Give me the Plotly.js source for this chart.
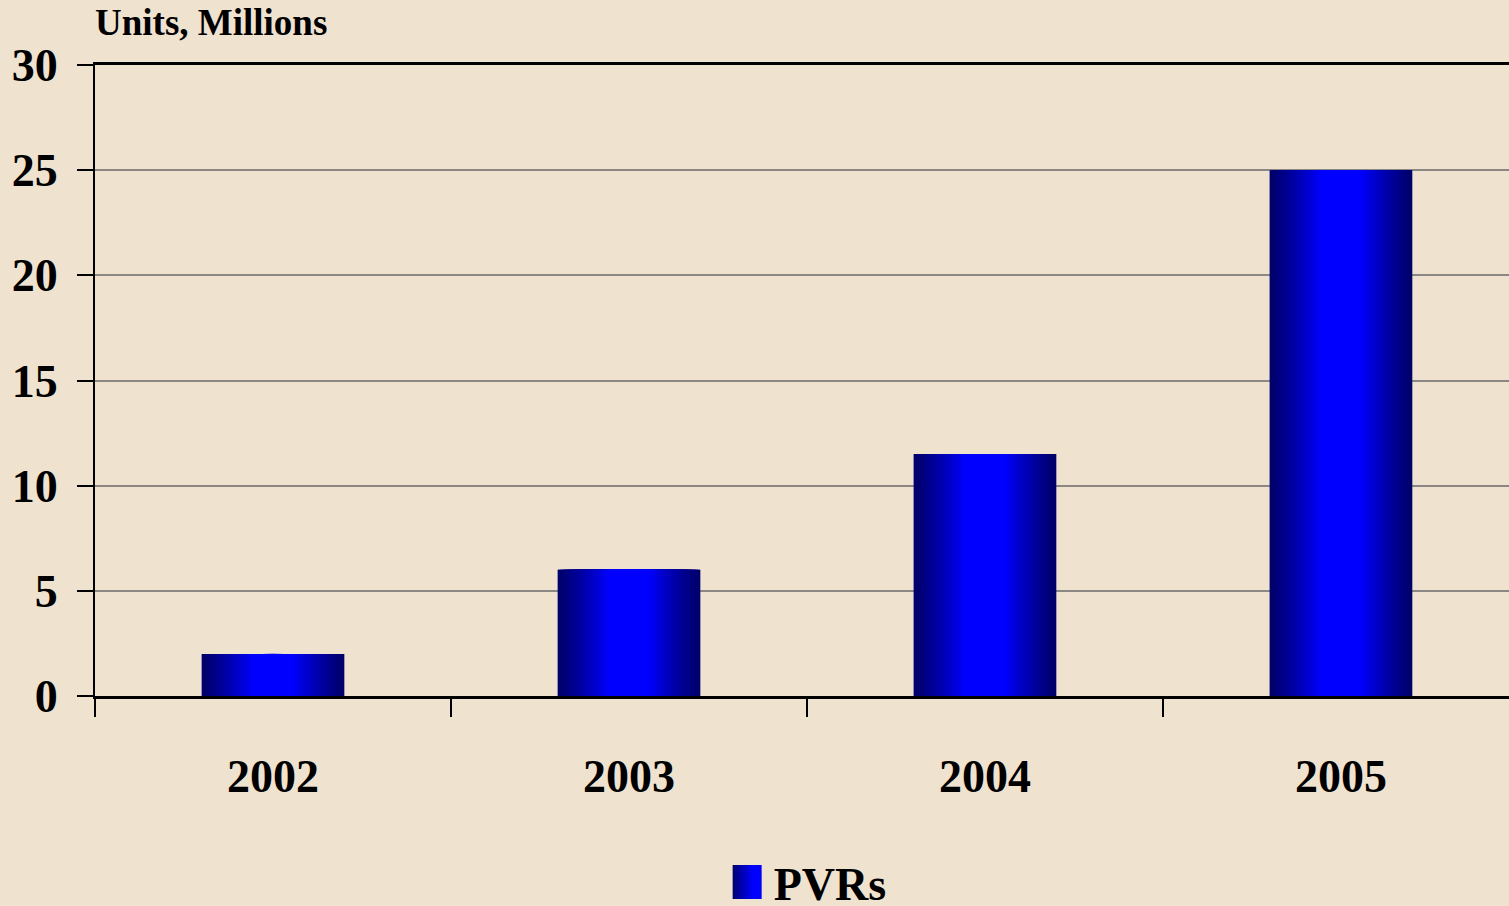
<!DOCTYPE html>
<html>
<head>
<meta charset="utf-8">
<script src="https://cdn.plot.ly/plotly-3.0.1.min.js"></script>
<style>
  html, body { margin: 0; padding: 0; background: #EFE2CF; }
  #chart { width: 1509px; height: 906px; }
</style>
</head>
<body>
<div id="chart"></div>
<script>
// ---- data ----
const years = ['2002', '2003', '2004', '2005'];
const pvrs = [2, 6, 11.5, 25];
const seriesName = 'PVRs';
const yTickVals = [0, 5, 10, 15, 20, 25, 30];
const yTickText = ['0', '5', '10', '15', '20', '25', '30'];
const yTitle = 'Units, Millions';

// ---- styling ----
const FONT = '"Liberation Serif", "Times New Roman", serif';
const BG = '#EFE2CF';
const BAR_W = 0.40;
const STEPS = 36;

function bandColor(d) { // d: 0 centre .. 1 edge
  const edge = 104;
  let b;
  if (d <= 0.3) b = 255;
  else b = 255 - (255 - edge) * Math.pow((d - 0.3) / 0.7, 0.85);
  return 'rgb(0,0,' + Math.round(b) + ')';
}

const traces = [];
// legend / base trace (fully covered by gradient layers)
traces.push({
  type: 'bar', x: years, y: pvrs, name: seriesName, width: BAR_W,
  marker: { color: '#0000D8', line: { width: 0 } },
  showlegend: true, hoverinfo: 'x+y'
});
for (let k = 0; k < STEPS; k++) {
  const frac = 1 - k / STEPS;
  traces.push({
    type: 'bar', x: years, y: pvrs, width: BAR_W * frac,
    marker: { color: bandColor(frac), line: { width: 0 } },
    showlegend: false, hoverinfo: 'skip'
  });
}

const layout = {
  width: 1509, height: 906,
  paper_bgcolor: BG, plot_bgcolor: BG,
  margin: { l: 95, r: 0, t: 65, b: 210, pad: 0, autoexpand: false },
  barmode: 'overlay',
  font: { family: FONT, color: '#000', size: 46 },
  title: {
    text: '<b>' + yTitle + '</b>',
    font: { family: FONT, size: 37, color: '#000' },
    xref: 'paper', x: 0, xanchor: 'left',
    yref: 'container', y: 0.99, yanchor: 'top'
  },
  xaxis: {
    type: 'category',
    range: [-0.5, 3.472],
    tickson: 'boundaries',
    ticks: 'outside', ticklen: 18, tickwidth: 2, tickcolor: '#000',
    showline: true, linecolor: '#000', linewidth: 3, mirror: true,
    showgrid: false, zeroline: false,
    tickfont: { family: FONT, size: 46, color: '#000', weight: 'bold' },
    ticklabelstandoff: 38,
    automargin: false,
    fixedrange: true
  },
  yaxis: {
    range: [0, 30],
    tickvals: yTickVals, ticktext: yTickText,
    ticks: 'outside', ticklen: 16, tickwidth: 2, tickcolor: '#000',
    showline: true, linecolor: '#000', linewidth: 2,
    showgrid: true, gridcolor: '#8A8784', gridwidth: 2,
    zeroline: false,
    tickfont: { family: FONT, size: 46, color: '#000', weight: 'bold' },
    ticklabelstandoff: 10,
    automargin: false,
    fixedrange: true
  },
  showlegend: true,
  legend: {
    orientation: 'h',
    x: 0.504, xanchor: 'center',
    y: -0.295, yanchor: 'middle',
    bgcolor: 'rgba(0,0,0,0)',
    font: { family: FONT, size: 46, color: '#000', weight: 'bold' },
    itemwidth: 40
  }
};

Plotly.newPlot('chart', traces, layout, { staticPlot: true, displayModeBar: false }).then(function (gd) {
  // enlarge the legend swatch and give it the bars' gradient
  const ns = 'http://www.w3.org/2000/svg';
  gd.querySelectorAll('.legend .legendpoints path').forEach(function (p) {
    const svg = p.ownerSVGElement;
    let defs = svg.querySelector('defs');
    if (!defs) { defs = document.createElementNS(ns, 'defs'); svg.insertBefore(defs, svg.firstChild); }
    if (!svg.querySelector('#legendGrad')) {
      const lg = document.createElementNS(ns, 'linearGradient');
      lg.setAttribute('id', 'legendGrad');
      lg.setAttribute('x1', '0'); lg.setAttribute('x2', '1'); lg.setAttribute('y1', '0'); lg.setAttribute('y2', '0');
      [['0', 'rgb(0,0,110)'], ['0.7', 'rgb(0,0,255)'], ['1', 'rgb(0,0,255)']].forEach(function (s) {
        const st = document.createElementNS(ns, 'stop');
        st.setAttribute('offset', s[0]); st.setAttribute('stop-color', s[1]);
        lg.appendChild(st);
      });
      defs.appendChild(lg);
    }
    p.removeAttribute('transform');
    p.setAttribute('d', 'M38,17H9V-17H38Z');
    p.style.fill = 'url(#legendGrad)';
    p.style.stroke = 'none';
  });
});
</script>
</body>
</html>
